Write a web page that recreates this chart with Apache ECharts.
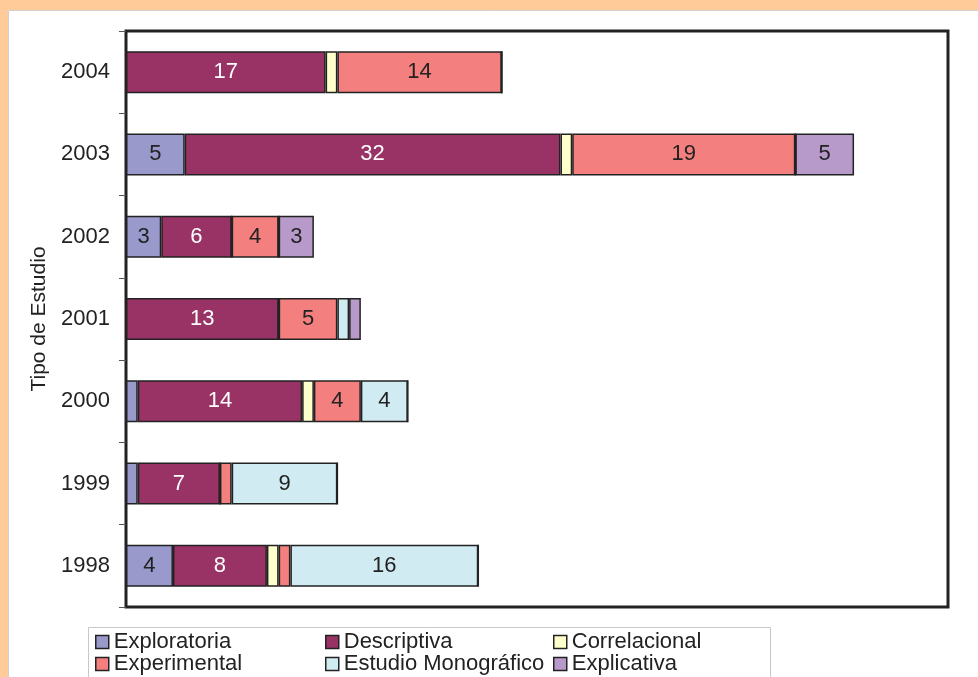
<!DOCTYPE html>
<html>
<head>
<meta charset="utf-8">
<script src="https://cdn.jsdelivr.net/npm/echarts@6/dist/echarts.min.js"></script>
<style>
  html, body { margin: 0; padding: 0; background: #fff; }
  #chart { width: 978px; height: 677px; }
</style>
</head>
<body>
<div id="chart"></div>
<script>
var years = ['1998', '1999', '2000', '2001', '2002', '2003', '2004'];
// valores por tipo de estudio (de 1998 a 2004)
var exploratoria  = [4, 1, 1, 0, 3, 5, 0];
var descriptiva   = [8, 7, 14, 13, 6, 32, 17];
var correlacional = [1, 0, 1, 0, 0, 1, 1];
var experimental  = [1, 1, 4, 5, 4, 19, 14];
var monografico   = [16, 9, 4, 1, 0, 0, 0];
var explicativa   = [0, 0, 0, 1, 3, 5, 0];

var chart = echarts.init(document.getElementById('chart'));
var font = 'Arial, "Liberation Sans", sans-serif';

function serie(name, data, color, labelColor) {
    return {
        name: name,
        type: 'bar',
        stack: 'total',
        barWidth: 42,
        data: data,
        itemStyle: {
            color: color,
            borderColor: '#222',
            borderWidth: 1.5
        },
        label: {
            show: true,
            position: 'inside',
            fontFamily: font,
            fontSize: 22,
            color: labelColor,
            formatter: function (p) {
                return p.value >= 2 ? p.value : '';
            }
        }
    };
}

function leyenda(names, left) {
    return {
        data: names,
        orient: 'vertical',
        left: left,
        top: 631,
        padding: 0,
        itemGap: 0,
        itemWidth: 13,
        itemHeight: 13,
        icon: 'rect',
        itemStyle: { borderColor: '#222', borderWidth: 1.5 },
        textStyle: { fontFamily: font, fontSize: 22, color: '#222', lineHeight: 21 }
    };
}

var option = {
    backgroundColor: '#fff',
    animation: false,
    graphic: [
        { type: 'rect', shape: { x: 0, y: 0, width: 978, height: 10 }, style: { fill: '#FFCC99' } },
        { type: 'rect', shape: { x: 0, y: 0, width: 8, height: 677 }, style: { fill: '#FFCC99' } },
        { type: 'polyline', shape: { points: [[8.5, 677], [8.5, 10.5], [978, 10.5]] }, style: { stroke: '#d0d0d0', lineWidth: 1, fill: null } },
        { type: 'rect', z: -1, shape: { x: 88.5, y: 627.5, width: 682, height: 60 }, style: { fill: '#fff', stroke: '#c8c8c8', lineWidth: 1 } }
    ],
    legend: [
        leyenda(['Exploratoria', 'Experimental'], 95),
        leyenda(['Descriptiva', 'Estudio Monográfico'], 325),
        leyenda(['Correlacional', 'Explicativa'], 553)
    ],
    grid: {
        left: 126,
        top: 31,
        right: 30,
        bottom: 70,
        show: true,
        backgroundColor: '#fff',
        borderColor: '#222',
        borderWidth: 3
    },
    xAxis: {
        type: 'value',
        min: 0,
        max: 70,
        axisLabel: { show: false },
        axisTick: { show: false },
        axisLine: { show: false },
        splitLine: { show: false }
    },
    yAxis: {
        type: 'category',
        data: years,
        name: 'Tipo de Estudio',
        nameLocation: 'middle',
        nameRotate: 90,
        nameGap: 76,
        nameTextStyle: { fontFamily: font, fontSize: 21, color: '#222' },
        axisLine: { show: false },
        axisTick: { show: true, length: 7, lineStyle: { color: '#555', width: 1 } },
        axisLabel: { fontFamily: font, fontSize: 22, color: '#222', margin: 16 },
        splitLine: { show: false }
    },
    series: [
        serie('Exploratoria', exploratoria, '#9999CC', '#222'),
        serie('Descriptiva', descriptiva, '#993366', '#fff'),
        serie('Correlacional', correlacional, '#FFFFCC', '#222'),
        serie('Experimental', experimental, '#F47F7F', '#222'),
        serie('Estudio Monográfico', monografico, '#D0ECF2', '#222'),
        serie('Explicativa', explicativa, '#B89ACA', '#222')
    ]
};

chart.setOption(option);
</script>
</body>
</html>
